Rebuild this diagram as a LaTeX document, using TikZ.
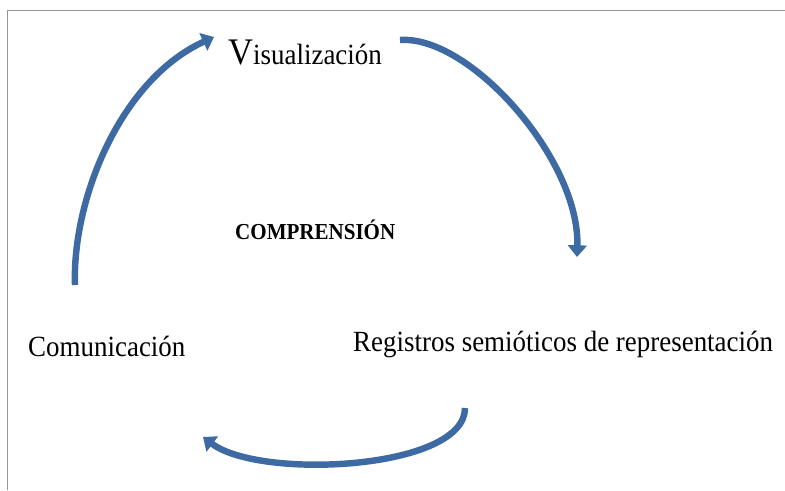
\documentclass[tikz,border=0pt]{standalone}
\usepackage{fontspec}
\setmainfont{Liberation Serif}[FakeStretch=0.92]
\usetikzlibrary{arrows.meta, positioning}
\definecolor{flechaazul}{RGB}{62,106,163}
\definecolor{marcogris}{RGB}{150,150,150}

\begin{document}
\begin{tikzpicture}[
        x=0.03cm, y=0.03cm,
        etapa/.style={inner sep=0pt, anchor=base west, font=\fontsize{25}{29}\selectfont},
        centro/.style={inner sep=0pt, anchor=base west, font=\fontsize{19.5}{22}\selectfont\bfseries},
        flecha/.style={-{Triangle[length=10pt, width=16pt]}, line width=5.5pt, flechaazul}
    ]
        \useasboundingbox (0,0) rectangle (785,490);
        \draw[marcogris, line width=0.8pt] (7,0) -- (7,480) -- (785,480);

        \node[etapa] (vis) at (228,426) {{\fontsize{32}{32}\selectfont V}isualización};
        \node[centro] (comp) at (235,251) {COMPRENSIÓN};
        \node[etapa] (com) at (28,134) {Comunicación};
        \node[etapa] (reg) at (353,139) {Registros semióticos de representación};

        % extremos de las flechas
        \coordinate (com-out) at (75,205);
        \coordinate (vis-in) at (214,453);
        \coordinate (vis-out) at (400,450);
        \coordinate (reg-in) at (577,233);
        \coordinate (reg-out) at (465,82);
        \coordinate (com-in) at (203,53);

        \draw[flecha] (com-out) .. controls (72,290) and (120,410) .. (vis-in);
        \draw[flecha] (vis-out) .. controls (470,455) and (580,330) .. (reg-in);
        \draw[flecha] (reg-out) .. controls (465,20) and (260,10) .. (com-in);
    \end{tikzpicture}
\end{document}
